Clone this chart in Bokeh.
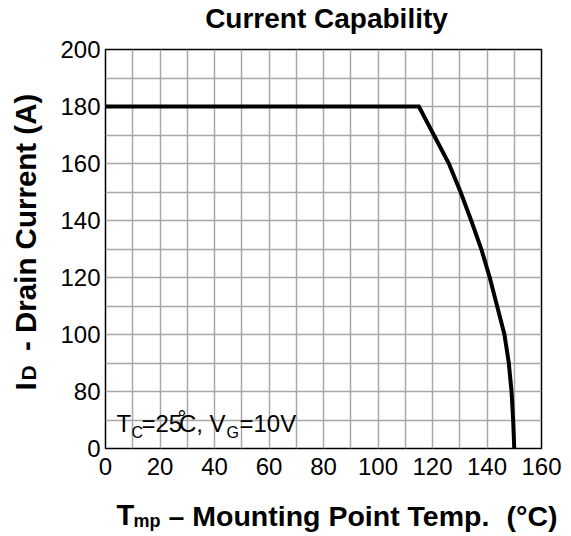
from bokeh.plotting import figure
from bokeh.models import Range1d, FixedTicker, Label
from bokeh.layouts import row, column
from bokeh.embed import file_html
from bokeh.resources import INLINE

# ---- data ----
# y axis is broken: the bottom gridline (axis value 60) is labelled "0"
temp_c = [0, 115, 120.5, 126, 130.3, 134.2, 137.9, 141, 143.7, 146.4, 148, 149, 149.6, 150]
drain_a = [180, 180, 170, 160, 150, 140, 130, 120, 110, 100, 90, 80, 70, 60]
x_ticks = [0, 20, 40, 60, 80, 100, 120, 140, 160]
y_ticks = [60, 80, 100, 120, 140, 160, 180, 200]
y_tick_labels = {60: "0"}
x_grid = list(range(0, 161, 10))
y_grid = list(range(60, 201, 10))

FONT = "Liberation Sans"


def blank(width, height, left=0, right=0):
    f = figure(width=width, height=height, output_backend="svg", toolbar_location=None,
               x_axis_type=None, y_axis_type=None, title=None, min_border=0,
               min_border_left=left, min_border_right=right,
               x_range=Range1d(0, 1), y_range=Range1d(0, 1))
    f.outline_line_color = None
    f.background_fill_color = "white"
    f.border_fill_color = "white"
    f.xgrid.visible = False
    f.ygrid.visible = False
    return f


def lab(fig, text, x, y_base, size, bold=False, angle=0.0, align="left"):
    # y_base: baseline position in screen px from the frame bottom
    # (for rotated text x is the baseline position from the frame left)
    s = float(size)
    if angle:
        x = x - 0.35 * s
    else:
        y_base = y_base + 0.35 * s
    fig.add_layout(Label(x=x, y=y_base, x_units="screen", y_units="screen", text=text,
                         text_font=FONT, text_font_size=f"{s}px",
                         text_font_style="bold" if bold else "normal",
                         text_color="black", text_align=align,
                         text_baseline="middle", angle=angle, angle_units="deg"))


# ---- main chart ----
p = figure(width=526, height=454, output_backend="svg", toolbar_location=None, title=None,
           x_range=Range1d(0, 160), y_range=Range1d(60, 200),
           min_border_left=60, min_border_right=30, min_border_top=13, min_border_bottom=42)

p.background_fill_color = "white"
p.border_fill_color = "white"
p.outline_line_color = "black"
p.outline_line_width = 1.5
p.outline_line_alpha = 1

for ax in (p.xaxis[0], p.yaxis[0]):
    ax.axis_line_color = None
    ax.major_tick_line_color = None
    ax.minor_tick_line_color = None
    ax.major_tick_out = 0
    ax.major_tick_in = 0
    ax.major_label_text_font = FONT
    ax.major_label_text_font_size = "24px"
    ax.major_label_text_color = "black"

p.xaxis.ticker = FixedTicker(ticks=x_ticks)
p.yaxis.ticker = FixedTicker(ticks=y_ticks)
p.yaxis.major_label_overrides = y_tick_labels
p.xaxis.major_label_standoff = 9
p.yaxis.major_label_standoff = 5

p.xgrid.ticker = FixedTicker(ticks=x_grid)
p.ygrid.ticker = FixedTicker(ticks=y_grid)
for g in (p.xgrid[0], p.ygrid[0]):
    g.grid_line_color = "#a8a8a8"
    g.grid_line_width = 1.5

p.line(temp_c, drain_a, line_color="black", line_width=4, line_join="miter")

# annotation T_C=25°C,V_G=10V (inside the frame)
lab(p, "T", 11, 17, 24)
lab(p, "C", 26, 10, 16)
lab(p, "=25", 36, 17, 24)
lab(p, "°", 72, 22.5, 22)
lab(p, "C,", 73.5, 17, 24)
lab(p, "V", 104, 17, 24)
lab(p, "G", 121, 10, 16)
lab(p, "=10V", 134, 17, 24)

# ---- title strip (frame aligned with the chart frame) ----
t = blank(526, 36, left=60, right=30)
lab(t, "Current Capability", 221, 8, 28, bold=True, align="center")

# ---- y axis title strip: I_D - Drain Current (A) ----
yb = blank(45, 490)
lab(yb, "I", 35, 100, 30, bold=True, angle=90)
lab(yb, "D", 35, 110, 21, bold=True, angle=90)
lab(yb, "- Drain Current (A)", 35, 139.5, 29.5, bold=True, angle=90)

# ---- x axis title strip: T_mp – Mounting Point Temp.  (°C) ----
xb = blank(571, 46)
lab(xb, "T", 116, 11, 29, bold=True)
lab(xb, "mp", 133, 9, 18, bold=True)
lab(xb, "– Mounting Point Temp.", 168, 11, 28.5, bold=True)
lab(xb, "(°C)", 506, 11, 28.5, bold=True)

layout = column(row(yb, column(t, p, spacing=0), spacing=0), xb, spacing=0)

open("out.html", "w").write(file_html(layout, INLINE))
